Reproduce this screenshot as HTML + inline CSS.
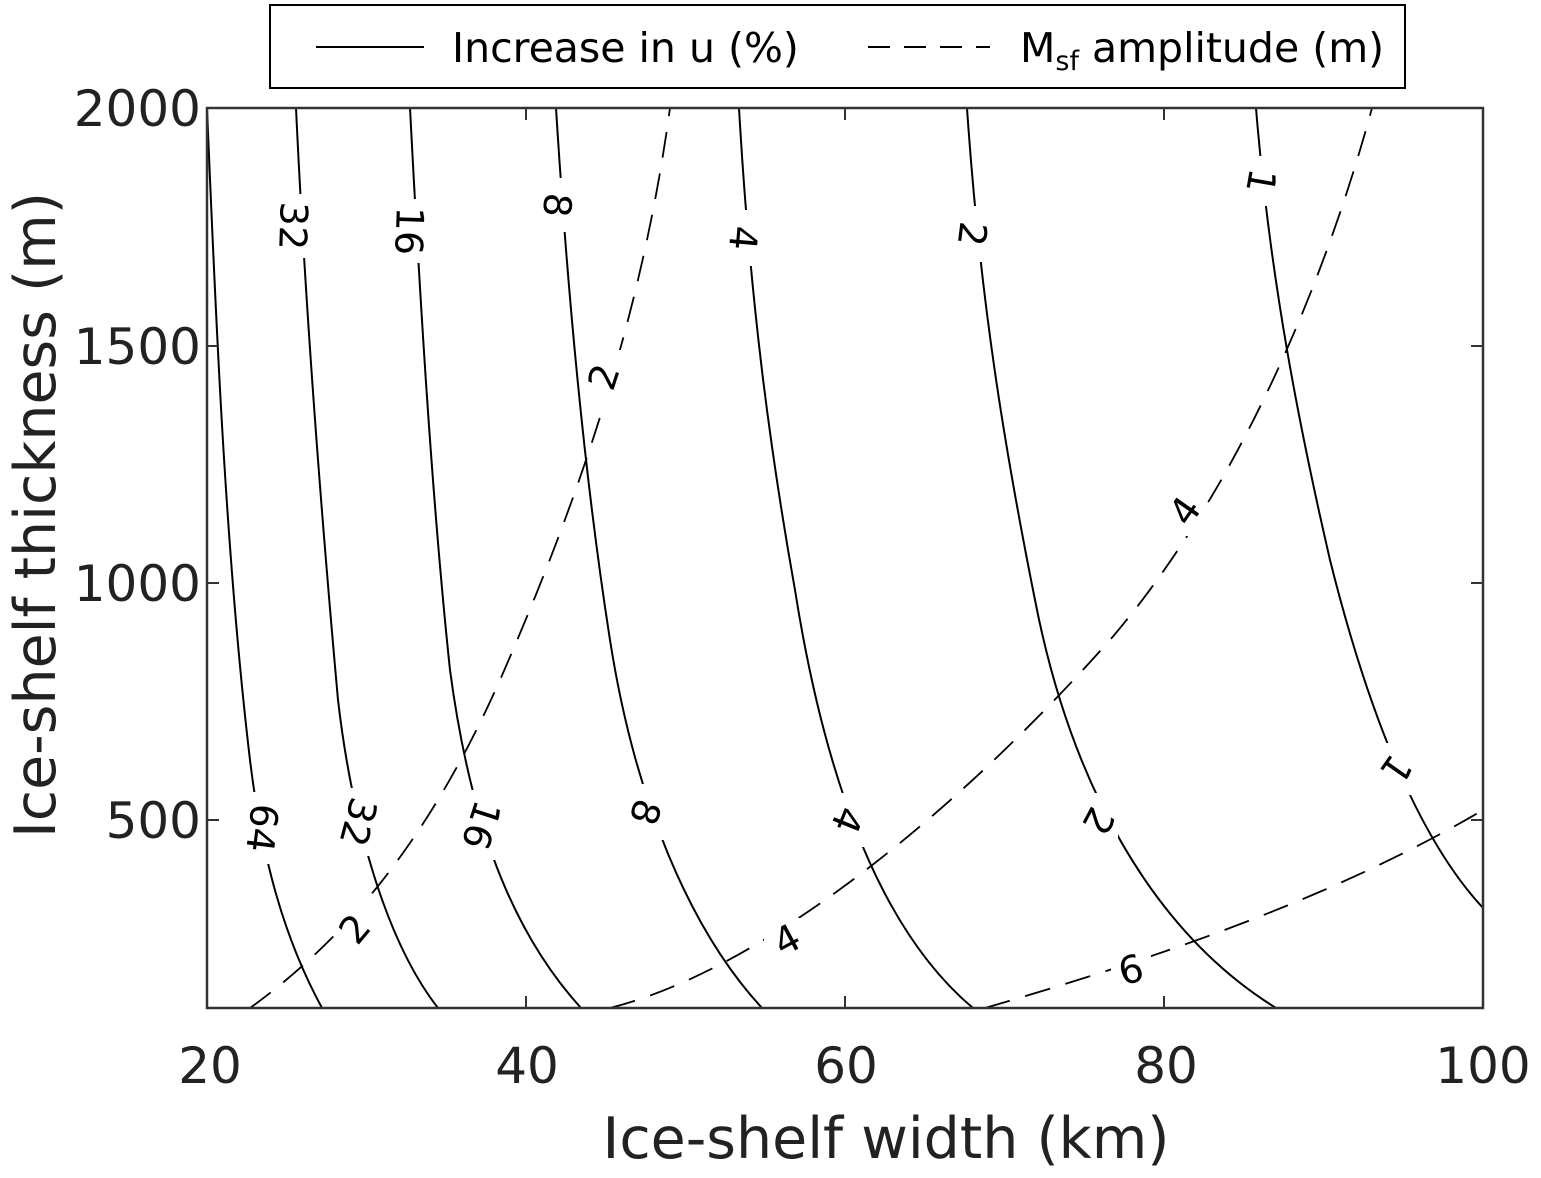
<!DOCTYPE html>
<html><head><meta charset="utf-8"><style>
html,body{margin:0;padding:0;background:#fff;}
svg{display:block;font-family:"DejaVu Sans","Liberation Sans",sans-serif;}
</style></head><body>
<svg width="1541" height="1178" viewBox="0 0 1541 1178" xmlns="http://www.w3.org/2000/svg">
<defs><clipPath id="c"><rect x="207" y="108" width="1276" height="900"/></clipPath></defs>
<g clip-path="url(#c)" fill="none" stroke="#000" stroke-width="2" stroke-linejoin="round">
<path d="M207,108 C215,300 225,550 250,760 C262,860 285,940 322,1008"/>
<path d="M296,108 C305,300 320,500 338,700 C352,820 385,940 438,1008"/>
<path d="M410,108 C420,300 432,500 450,670 C470,820 510,930 581,1008"/>
<path d="M556,108 C568,300 585,480 610,640 C635,800 690,930 762,1008"/>
<path d="M739,108 C750,300 770,450 795,590 C825,780 880,930 973,1008"/>
<path d="M967,108 C980,300 1005,450 1035,600 C1070,780 1150,930 1276,1008"/>
<path d="M1256,108 C1270,280 1300,430 1330,560 C1370,720 1420,840 1483,908"/>
<g stroke-dasharray="26,16" stroke-width="1.8">
<path d="M250,1008 C330,950 420,860 500,680 C570,520 640,330 670,108"/>
<path d="M610,1008 C760,970 950,820 1110,640 C1230,500 1320,300 1372,108"/>
<path d="M985,1008 C1150,960 1330,900 1483,810"/>
</g>
</g>
<g font-size="38" fill="#000" text-anchor="middle" dominant-baseline="central">
<g fill="#fff">
<rect x="274" y="194" width="38" height="64"/><rect x="390" y="199" width="38" height="64"/>
<rect x="538" y="178" width="38" height="54"/><rect x="724" y="210" width="38" height="56"/>
<rect x="953" y="206" width="38" height="56"/><rect x="1243" y="156" width="36" height="50"/>
<rect x="242" y="792" width="40" height="72"/><rect x="338" y="788" width="40" height="68"/>
<rect x="461" y="790" width="40" height="70"/><rect x="626" y="784" width="38" height="56"/>
<rect x="828" y="793" width="38" height="54"/><rect x="1078" y="793" width="40" height="56"/>
<rect x="1376" y="743" width="40" height="52"/>
<rect x="334" y="904" width="42" height="50"/><rect x="584" y="350" width="40" height="54"/>
<rect x="764" y="918" width="46" height="44"/><rect x="1164" y="486" width="42" height="50"/>
<rect x="1111" y="950" width="40" height="40"/>
</g>
<text transform="translate(293,226) rotate(92)">32</text>
<text transform="translate(409,231) rotate(92)">16</text>
<text transform="translate(557,205) rotate(95)">8</text>
<text transform="translate(743,238) rotate(95)">4</text>
<text transform="translate(972,234) rotate(97)">2</text>
<text transform="translate(1261,181) rotate(100)">1</text>
<text transform="translate(262,828) rotate(97)">64</text>
<text transform="translate(358,822) rotate(105)">32</text>
<text transform="translate(481,825) rotate(108)">16</text>
<text transform="translate(645,812) rotate(108)">8</text>
<text transform="translate(847,820) rotate(112)">4</text>
<text transform="translate(1098,821) rotate(118)">2</text>
<text transform="translate(1396,769) rotate(125)">1</text>
<text transform="translate(355,929) rotate(-50)">2</text>
<text transform="translate(604,377) rotate(-72)">2</text>
<text transform="translate(787,940) rotate(-28)">4</text>
<text transform="translate(1185,511) rotate(-55)">4</text>
<text transform="translate(1131,970) rotate(-15)">6</text>
</g>
<rect x="207" y="108" width="1276" height="900" fill="none" stroke="#333" stroke-width="2.5"/>
<g stroke="#333" stroke-width="2">
<path d="M207,820h12M207,583h12M207,346h12M1483,820h-12M1483,583h-12M1483,346h-12"/>
<path d="M526,1008v-12M845,1008v-12M1164,1008v-12M526,108v12M845,108v12M1164,108v12"/>
</g>
<g font-size="50" fill="#222" text-anchor="middle">
<text x="210" y="1083">20</text><text x="527" y="1083">40</text><text x="846" y="1083">60</text><text x="1166" y="1083">80</text><text x="1483" y="1083">100</text>
</g>
<g font-size="50" fill="#222" text-anchor="end">
<text x="201" y="126">2000</text><text x="201" y="364">1500</text><text x="201" y="601">1000</text><text x="201" y="838">500</text>
</g>
<text x="886" y="1158" font-size="57" fill="#222" text-anchor="middle">Ice-shelf width (km)</text>
<text transform="translate(55,515) rotate(-90)" font-size="57" fill="#222" text-anchor="middle">Ice-shelf thickness (m)</text>
<rect x="270" y="5" width="1135" height="83" fill="#fff" stroke="#000" stroke-width="2"/>
<line x1="316" y1="47" x2="424" y2="47" stroke="#000" stroke-width="2"/>
<text x="452" y="62" font-size="41" fill="#000">Increase in u (%)</text>
<line x1="868" y1="47" x2="990" y2="47" stroke="#000" stroke-width="2" stroke-dasharray="22,14"/>
<text x="1020" y="62" font-size="41" fill="#000">M<tspan font-size="27" dy="8">sf</tspan><tspan dy="-8"> amplitude (m)</tspan></text>
</svg>
</body></html>
